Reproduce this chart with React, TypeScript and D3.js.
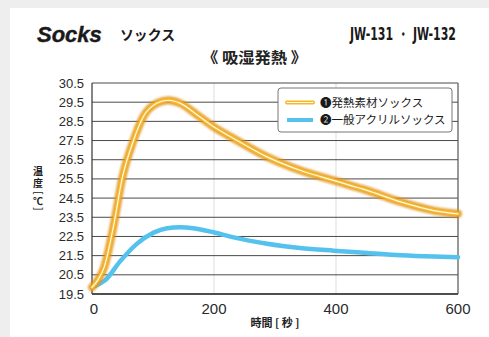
import React from "react";
import * as d3 from "d3";

const W = 489;
const H = 337;

const yTicks = [30.5, 29.5, 28.5, 27.5, 26.5, 25.5, 24.5, 23.5, 22.5, 21.5, 20.5, 19.5];
const xTicks = [0, 200, 400, 600];

const seriesNames = ["❶発熱素材ソックス", "❷一般アクリルソックス"];

const heatTime = [0, 10, 20, 35, 50, 68, 84, 106, 125, 144, 172, 200, 230, 287, 341, 396, 451, 506, 560, 600];
const heatTemp = [19.85, 20.25, 20.9, 23.0, 25.6, 27.5, 28.74, 29.44, 29.6, 29.45, 28.85, 28.2, 27.65, 26.65, 25.95, 25.42, 24.9, 24.3, 23.85, 23.68];

const acrylTime = [0, 10, 21, 46, 73, 101, 123, 144, 166, 199, 232, 287, 341, 396, 451, 506, 560, 600];
const acrylTemp = [19.85, 20.0, 20.2, 21.2, 22.1, 22.7, 22.93, 22.98, 22.93, 22.72, 22.45, 22.12, 21.9, 21.76, 21.64, 21.52, 21.45, 21.42];

const M = { left: 92, right: 458, top: 83, bottom: 294 };

export default function App() {
  const x = d3.scaleLinear().domain([0, 600]).range([M.left, M.right]);
  const y = d3.scaleLinear().domain([19.5, 30.5]).range([M.bottom, M.top]);

  const line = d3
    .line<[number, number]>()
    .x((d) => x(d[0]))
    .y((d) => y(d[1]))
    .curve(d3.curveMonotoneX);

  const heatPath = line(heatTime.map((t, i) => [t, heatTemp[i]] as [number, number])) || "";
  const acrylPath = line(acrylTime.map((t, i) => [t, acrylTemp[i]] as [number, number])) || "";

  const sans = "'Liberation Sans', Arial, sans-serif";
  const jp = "'Noto Sans CJK JP', 'Noto Sans', sans-serif";

  const lgX = 278, lgY = 88, lgW = 174, lgH = 44;
  const yl = 38;

  return (
    <div style={{ position: "fixed", left: 0, top: 0 }}>
      <svg width={W} height={H} viewBox={`0 0 ${W} ${H}`}>
        <defs>
          <filter id="glow" x="-10%" y="-10%" width="120%" height="120%">
            <feGaussianBlur stdDeviation="1.3" />
          </filter>
        </defs>
        <rect x={0} y={0} width={W} height={H} fill="#eeeeee" />
        <rect x={10} y={8} width={W - 10} height={H - 8} fill="#ffffff" />

        {/* Titles */}
        <text x={37} y={42} fontFamily={sans} fontWeight="bold" fontStyle="italic" fontSize={22} fill="#1a1a1a" stroke="#1a1a1a" strokeWidth={0.4}>
          Socks
        </text>
        <text x={120} y={40} fontFamily={jp} fontWeight="bold" fontSize={14} fill="#1a1a1a" textLength={55} lengthAdjust="spacingAndGlyphs">
          ソックス
        </text>
        <text x={350} y={40} fontFamily="'Liberation Sans Narrow', 'DejaVu Sans Condensed', sans-serif" fontWeight="bold" fontSize={17} fill="#1a1a1a" textLength={106} lengthAdjust="spacingAndGlyphs">
          JW-131 ・ JW-132
        </text>
        <text x={202} y={63} fontFamily={jp} fontWeight="bold" fontSize={15} fill="#222" textLength={105} lengthAdjust="spacingAndGlyphs">
          《 吸湿発熱 》
        </text>

        {/* Vertical gridlines */}
        {xTicks.filter((t) => t > 0 && t < 600).map((t) => (
          <line key={"vx" + t} x1={x(t)} x2={x(t)} y1={M.top} y2={M.bottom} stroke="#dddddd" strokeWidth={1} />
        ))}
        {/* Horizontal gridlines */}
        {yTicks.map((t) => (
          <line key={"hy" + t} x1={M.left} x2={M.right} y1={y(t)} y2={y(t)} stroke="#4a4a4a" strokeWidth={1} />
        ))}
        <line x1={M.left} x2={M.left} y1={M.top} y2={M.bottom} stroke="#333" strokeWidth={1.2} />
        <line x1={M.right} x2={M.right} y1={M.top} y2={M.bottom} stroke="#555" strokeWidth={1.2} />
        <line x1={M.left} x2={M.right} y1={M.bottom} y2={M.bottom} stroke="#333" strokeWidth={1.5} />

        {/* Y tick labels */}
        {yTicks.map((t) => (
          <text key={"yl" + t} x={84} y={y(t) + 4.5} textAnchor="end" fontFamily={sans} fontSize={13} fill="#2a2a2a">
            {t.toFixed(1)}
          </text>
        ))}
        {/* X tick labels */}
        {xTicks.map((t) => (
          <text key={"xl" + t} x={x(t) + (t === 0 ? 2 : 0)} y={314} textAnchor="middle" fontFamily={sans} fontSize={15} fill="#2a2a2a">
            {t}
          </text>
        ))}

        {/* Axis titles */}
        <text x={275} y={327} textAnchor="middle" fontFamily={jp} fontWeight="bold" fontSize={11} fill="#222">
          時間 [ 秒 ]
        </text>
        <text textAnchor="middle" fontFamily={jp} fontWeight="bold" fontSize={10} fill="#222">
          <tspan x={yl} y={175}>温</tspan>
          <tspan x={yl} y={187}>度</tspan>
          <tspan x={yl} y={205}>℃</tspan>
        </text>
        <text transform={`translate(${yl},193) rotate(90)`} textAnchor="middle" dominantBaseline="central" fontFamily={sans} fontSize={10} fill="#222">[</text>
        <text transform={`translate(${yl},209) rotate(90)`} textAnchor="middle" dominantBaseline="central" fontFamily={sans} fontSize={10} fill="#222">]</text>

        {/* Series */}
        <path d={acrylPath} fill="none" stroke="#55c2ee" strokeWidth={4.5} strokeLinecap="round" strokeLinejoin="round" />
        <path d={heatPath} fill="none" stroke="#e39318" strokeWidth={8} strokeLinecap="round" strokeLinejoin="round" filter="url(#glow)" opacity={0.85} />
        <path d={heatPath} fill="none" stroke="#f6b728" strokeWidth={4} strokeLinecap="round" strokeLinejoin="round" />
        <path d={heatPath} fill="none" stroke="#fffbe8" strokeWidth={1.2} strokeLinecap="round" strokeLinejoin="round" />

        {/* Legend */}
        <rect x={lgX} y={lgY} width={lgW} height={lgH} rx={3} ry={3} fill="#ffffff" stroke="#777" strokeWidth={1} />
        <line x1={287} x2={313} y1={102.5} y2={102.5} stroke="#e39318" strokeWidth={7} strokeLinecap="round" filter="url(#glow)" opacity={0.85} />
        <line x1={287} x2={313} y1={102.5} y2={102.5} stroke="#f6b728" strokeWidth={4} strokeLinecap="round" />
        <line x1={287} x2={313} y1={102.5} y2={102.5} stroke="#fffbe8" strokeWidth={1.2} strokeLinecap="round" />
        <line x1={287} x2={313} y1={120} y2={120} stroke="#55c2ee" strokeWidth={4} />
        <text x={320} y={106.5} fontFamily={jp} fontSize={11.5} fill="#1a1a1a">
          {seriesNames[0]}
        </text>
        <text x={320} y={124} fontFamily={jp} fontSize={11.5} fill="#1a1a1a">
          {seriesNames[1]}
        </text>
      </svg>
    </div>
  );
}
